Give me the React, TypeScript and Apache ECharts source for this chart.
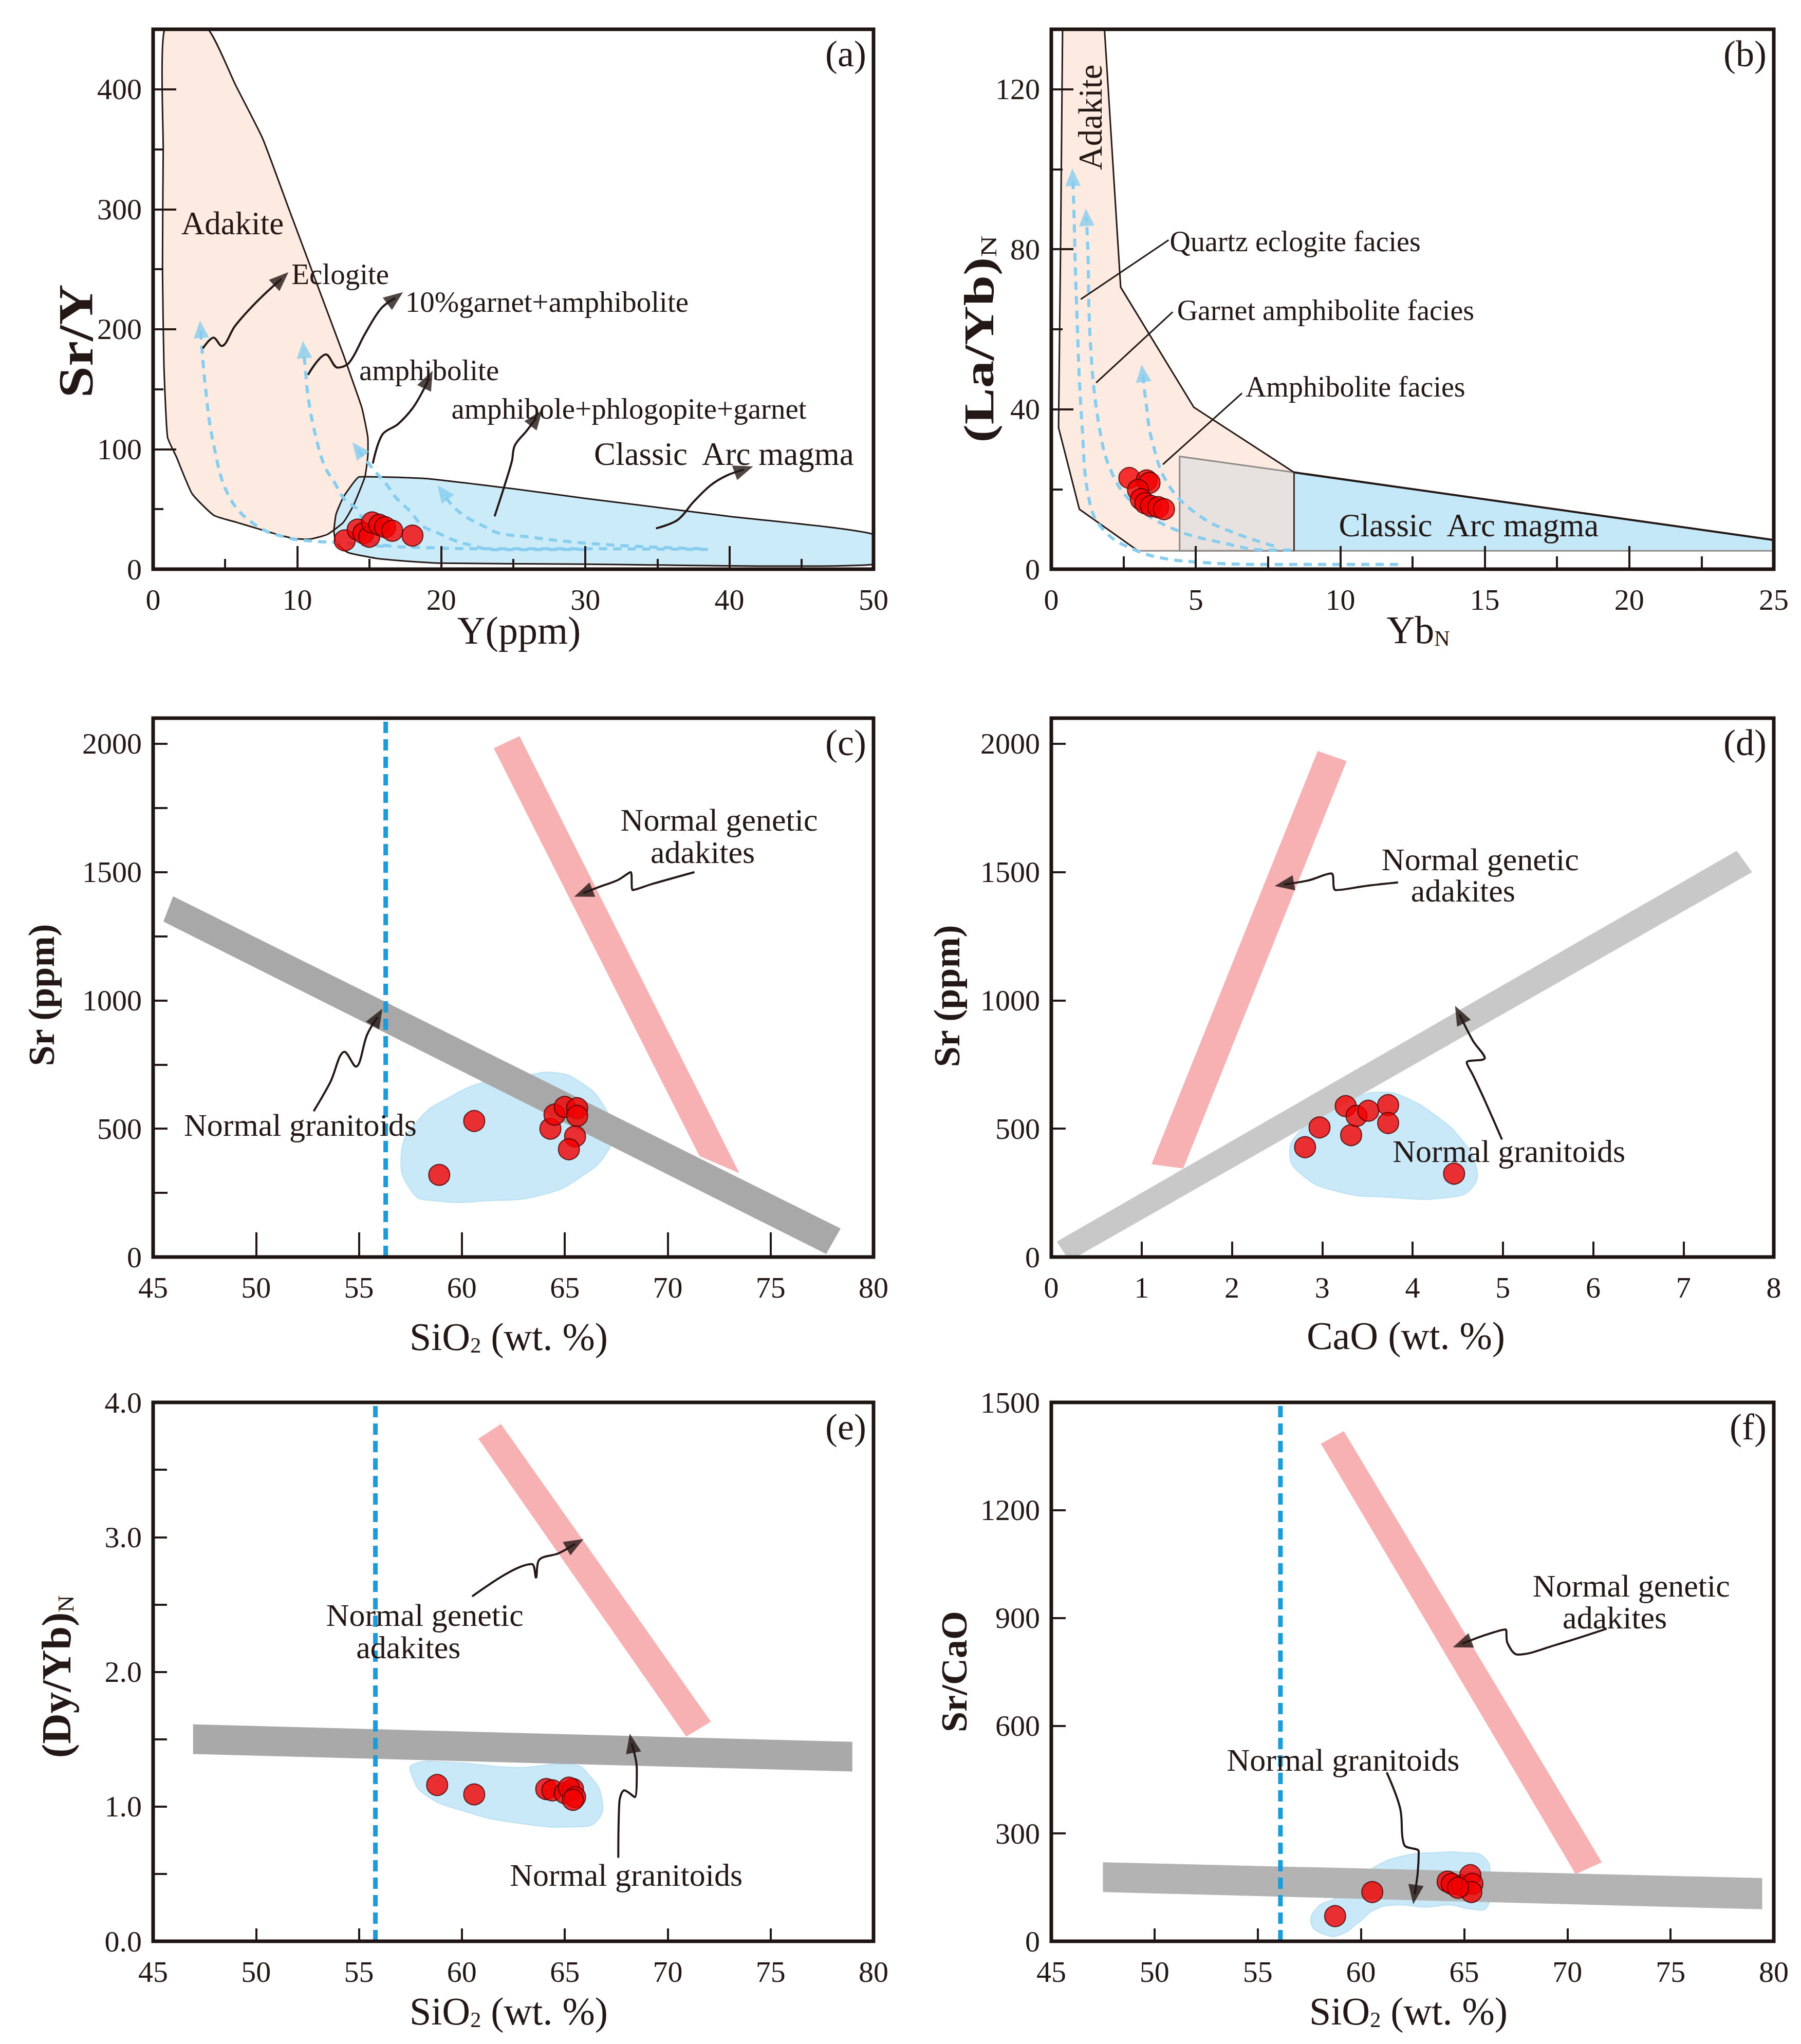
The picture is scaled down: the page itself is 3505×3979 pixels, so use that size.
import React, { useEffect, useRef } from 'react';
import * as echarts from 'echarts';

type Pt = [number, number];

const FONT = "'Liberation Serif', 'Times New Roman', Times, serif";
const INK = '#231815';

// ---------------- (a) Sr/Y vs Y(ppm) ----------------
const aXTicks = [0, 10, 20, 30, 40, 50];
const aXMinor = 5;
const aYTicks = [0, 100, 200, 300, 400];
const aYMinor = 50;
const aYMax = 450;
const aAdakite: Pt[] = [[0.8, 450], [0.7, 350], [0.65, 250], [0.75, 170], [1.0, 110], [1.6, 94], [2.7, 63], [4.2, 45], [5.8, 39], [7.2, 34], [8.6, 29], [9.8, 25.5], [10.9, 25], [12.1, 29], [13.2, 39], [13.9, 53], [14.7, 77], [14.9, 94], [14.9, 110], [14.5, 134], [13.9, 155], [13.2, 179], [11.3, 240], [9.4, 301], [7.6, 359], [5.7, 404], [3.8, 450]];
const aArc: Pt[] = [[14.3, 77], [19, 75.5], [25, 67], [30, 59], [40, 44], [50, 29], [50, 4], [30, 4.2], [20, 5], [17.9, 6.4], [15.5, 9], [13.5, 14], [12.7, 22], [12.55, 32], [12.7, 46], [13.2, 60], [13.9, 72]];
const aSamples: Pt[] = [[13.3, 24], [14.2, 33], [14.6, 30], [15.0, 27], [15.2, 39], [15.7, 37], [16.1, 35], [16.6, 32], [18.0, 28]];
const aTrendA: Pt[] = [[16, 19], [13, 22], [11, 23.5], [9.4, 26], [7.2, 36], [5.3, 60], [4.2, 104], [3.6, 155], [3.3, 200]];
const aTrendB: Pt[] = [[38.5, 16.5], [30, 17], [24, 17], [19, 18], [15.5, 21], [14.6, 32], [14.3, 48], [13.3, 58], [12.6, 72], [11.9, 86], [11.3, 110], [10.8, 140], [10.6, 162], [10.45, 183]];
const aTrendC: Pt[] = [[38, 17], [32, 20], [28, 24], [26, 27], [24, 30], [23, 35.5], [21.8, 43], [20.8, 52.6], [20.1, 64]];
const aTrendD: Pt[] = [[30, 16.5], [24.7, 16.3], [23.5, 16.3], [22.3, 19.3], [20.9, 24], [19.8, 30], [18.7, 36], [17.9, 47.5], [16.9, 59], [16.2, 70.6], [15.3, 83], [14.2, 100]];
const aArrowEclogite: Pt[] = [[3.45, 184], [4.2, 193], [4.75, 186], [5.7, 203], [7.2, 223], [8.9, 242]];
const aArrowGarnet: Pt[] = [[10.75, 162], [12.0, 179], [12.8, 168], [13.6, 172], [14.7, 196], [15.8, 217], [16.8, 226]];
const aArrowAmph: Pt[] = [[15.25, 88], [15.9, 112], [17.0, 121], [18.0, 134], [18.7, 148], [19.1, 158]];
const aArrowPhlog: Pt[] = [[23.7, 44], [24.4, 70], [24.9, 90], [25.1, 103], [25.9, 115], [26.6, 126]];
const aArrowArc: Pt[] = [[34.9, 34], [36.4, 41], [37.5, 56], [38.7, 70], [39.8, 78], [41.0, 83]];
const aNotes = [
  { x: 1.95, y: 288, text: 'Adakite', size: 63 },
  { x: 9.6, y: 246, text: 'Eclogite', size: 57 },
  { x: 17.5, y: 223, text: '10%garnet+amphibolite', size: 57 },
  { x: 14.3, y: 166, text: 'amphibolite', size: 57 },
  { x: 20.7, y: 134, text: 'amphibole+phlogopite+garnet', size: 57 },
  { x: 30.6, y: 96, text: 'Classic  Arc magma', size: 63 },
];

// ---------------- (b) (La/Yb)N vs YbN ----------------
const bXTicks = [0, 5, 10, 15, 20, 25];
const bXMinor = 2.5;
const bYTicks = [0, 40, 80, 120];
const bYMinor = 20;
const bYMax = 135;
const bAdakite: Pt[] = [[0.39, 135], [0.32, 80], [0.25, 35.4], [0.97, 15], [3.0, 4.5], [8.4, 4.5], [8.4, 24.2], [4.93, 40.5], [2.4, 70.5], [1.84, 135]];
const bAdakiteRightEdge: Pt[] = [[8.4, 24.2], [4.93, 40.5], [2.4, 70.5], [1.84, 135]];
const bAdakiteLeftEdge: Pt[] = [[0.39, 135], [0.32, 80], [0.25, 35.4], [0.97, 15], [3.0, 4.6]];
const bGreyBox: Pt[] = [[4.44, 28.2], [8.4, 24.2], [8.4, 4.6], [4.44, 4.6]];
const bArc: Pt[] = [[8.4, 24.2], [25, 7.3], [25, 4.6], [8.4, 4.6]];
const bArcTop: Pt[] = [[8.4, 24.2], [25, 7.3]];
const bBaseLine: Pt[] = [[3.0, 4.6], [25, 4.6]];
const bSamples: Pt[] = [[2.7, 22.8], [3.3, 22.2], [3.4, 21.6], [3.0, 19.8], [3.1, 17.5], [3.25, 16.5], [3.45, 15.8], [3.7, 15.5], [3.9, 15.0]];
const bTrend1: Pt[] = [[12, 1.2], [7.15, 1.2], [5.2, 1.7], [3.86, 2.75], [2.9, 4.8], [1.93, 8.9], [1.35, 16], [1.06, 36.4], [0.87, 67], [0.77, 92.5], [0.74, 98]];
const bTrend2: Pt[] = [[8.3, 4.8], [7.5, 4.8], [5.8, 6.8], [4.25, 10], [2.9, 16], [2.1, 24], [1.64, 36.4], [1.35, 57], [1.26, 81], [1.21, 88]];
const bTrend3: Pt[] = [[7.7, 5.8], [6.4, 8.9], [5.2, 13], [4.06, 21], [3.48, 32.3], [3.28, 41.5], [3.16, 49]];
const bLeaderQuartz: Pt[] = [[1.02, 67.5], [4.06, 82.3]];
const bLeaderGarnet: Pt[] = [[1.55, 46.6], [4.2, 64.3]];
const bLeaderAmph: Pt[] = [[3.86, 26.2], [6.6, 44]];
const bNotes = [
  { x: 1.35, y: 113, text: 'Adakite', size: 65, align: 'center', rot: 90 },
  { x: 4.1, y: 82, text: 'Quartz eclogite facies', size: 56 },
  { x: 4.35, y: 64.8, text: 'Garnet amphibolite facies', size: 56 },
  { x: 6.72, y: 45.6, text: 'Amphibolite facies', size: 56 },
  { x: 9.95, y: 10.9, text: 'Classic  Arc magma', size: 63 },
];

// ---------------- (c) Sr vs SiO2 ----------------
const cXTicks = [45, 50, 55, 60, 65, 70, 75, 80];
const cYTicks = [0, 500, 1000, 1500, 2000];
const cYMinor = 250;
const cYMax = 2100;
const cGreyBand: Pt[] = [[45.97, 1406], [78.4, 111], [77.7, 12], [45.5, 1307]];
const cPinkBand: Pt[] = [[61.55, 1983], [62.8, 2030], [73.48, 327], [71.54, 394]];
const cCluster: Pt[] = [[57.06, 402], [57.6, 252], [58.7, 219], [61.2, 219], [64, 244], [65.9, 319], [67, 402], [67.3, 485], [66.8, 601], [65.7, 684], [64.55, 718], [63.2, 709], [61.2, 684], [59.3, 618], [57.9, 535]];
const cSiO2Limit = 56.3;
const cSamples: Pt[] = [[58.9, 320], [60.6, 530], [64.3, 500], [64.5, 555], [65.0, 585], [65.6, 580], [65.6, 550], [65.5, 470], [65.2, 420]];
const cArrowAdakite: Pt[] = [[71.3, 1500], [69.3, 1455], [68.3, 1430], [68.2, 1500], [67.6, 1470], [66.6, 1440], [65.9, 1418]];
const cArrowGranite: Pt[] = [[52.8, 568], [53.6, 680], [54.3, 800], [54.85, 742], [55.4, 867], [55.9, 935]];
const cNotes = [
  { x: 72.5, y: 1703, text: 'Normal genetic', size: 62, align: 'center' },
  { x: 71.7, y: 1578, text: 'adakites', size: 62, align: 'center' },
  { x: 46.5, y: 515, text: 'Normal granitoids', size: 62 },
];

// ---------------- (d) Sr vs CaO ----------------
const dXTicks = [0, 1, 2, 3, 4, 5, 6, 7, 8];
const dYTicks = [0, 500, 1000, 1500, 2000];
const dYMax = 2100;
const dGreyBand: Pt[] = [[0.06, 60], [7.59, 1583], [7.76, 1500], [0.2, -15]];
const dPinkBand: Pt[] = [[2.95, 1972], [3.27, 1933], [1.46, 345], [1.11, 362]];
const dCluster: Pt[] = [[2.64, 408], [2.76, 325], [3.14, 258], [3.72, 233], [4.42, 233], [4.67, 275], [4.7, 358], [4.54, 458], [4.29, 542], [3.9, 625], [3.65, 642], [3.4, 625], [3.02, 558], [2.76, 492]];
const dSamples: Pt[] = [[2.81, 428], [2.97, 505], [3.26, 588], [3.32, 475], [3.38, 550], [3.51, 570], [3.73, 592], [3.73, 522], [4.46, 325]];
const dArrowAdakite: Pt[] = [[3.84, 1460], [3.5, 1447], [3.15, 1430], [3.1, 1495], [2.85, 1468], [2.58, 1452]];
const dArrowGranite: Pt[] = [[4.99, 458], [4.8, 610], [4.67, 708], [4.6, 758], [4.8, 775], [4.67, 842], [4.52, 945]];
const dNotes = [
  { x: 4.75, y: 1550, text: 'Normal genetic', size: 62, align: 'center' },
  { x: 4.56, y: 1428, text: 'adakites', size: 62, align: 'center' },
  { x: 3.78, y: 412, text: 'Normal granitoids', size: 62 },
];

// ---------------- (e) (Dy/Yb)N vs SiO2 ----------------
const eXTicks = [45, 50, 55, 60, 65, 70, 75, 80];
const eYTicks = [0, 1, 2, 3, 4];
const eYMinor = 0.5;
const eYMax = 4;
const eGreyBand: Pt[] = [[46.94, 1.61], [78.97, 1.48], [78.97, 1.26], [46.94, 1.39]];
const ePinkBand: Pt[] = [[60.8, 3.73], [61.9, 3.84], [72.1, 1.63], [70.9, 1.52]];
const eCluster: Pt[] = [[57.6, 1.31], [59.3, 1.33], [62.6, 1.29], [65.4, 1.31], [66.2, 1.23], [66.8, 1.06], [66.6, 0.9], [65.7, 0.85], [62.6, 0.88], [59.8, 0.98], [58.2, 1.09], [57.6, 1.22]];
const eSiO2Limit = 55.8;
const eSamples: Pt[] = [[58.8, 1.16], [60.6, 1.09], [64.1, 1.13], [64.4, 1.12], [65.0, 1.1], [65.4, 1.13], [65.2, 1.14], [65.5, 1.07], [65.4, 1.05]];
const eArrowAdakite: Pt[] = [[60.5, 2.56], [62.3, 2.74], [63.4, 2.8], [63.6, 2.7], [63.75, 2.83], [64.7, 2.88], [65.5, 2.95]];
const eArrowGranite: Pt[] = [[67.6, 0.62], [67.65, 1.03], [67.9, 1.12], [68.4, 1.07], [68.5, 1.28], [68.25, 1.47]];
const eNotes = [
  { x: 58.2, y: 2.42, text: 'Normal genetic', size: 62, align: 'center' },
  { x: 57.4, y: 2.18, text: 'adakites', size: 62, align: 'center' },
  { x: 62.33, y: 0.49, text: 'Normal granitoids', size: 62 },
];

// ---------------- (f) Sr/CaO vs SiO2 ----------------
const fXTicks = [45, 50, 55, 60, 65, 70, 75, 80];
const fYTicks = [0, 300, 600, 900, 1200, 1500];
const fYMax = 1500;
const fGreyBand: Pt[] = [[47.5, 220], [79.44, 176], [79.44, 89], [47.5, 137]];
const fPinkBand: Pt[] = [[58.06, 1385], [59.17, 1420], [71.67, 220], [70.4, 187]];
const fCluster: Pt[] = [[57.6, 48], [58.3, 18], [59, 18], [59.9, 53], [60.7, 89], [61.8, 101], [63.2, 95], [64.3, 101], [65.4, 89], [66.1, 95], [66.25, 166], [66, 232], [64.86, 247], [63.75, 247], [62.1, 238], [60.7, 208], [59.9, 166], [58.75, 119], [57.9, 95]];
const fSiO2Limit = 56.1;
const fSamples: Pt[] = [[58.75, 70], [60.55, 137], [64.2, 166], [64.4, 160], [64.9, 155], [65.3, 184], [65.4, 160], [65.35, 137], [64.7, 149]];
const fArrowAdakite: Pt[] = [[71.9, 870], [69.5, 826], [67.6, 798], [67.1, 830], [67.0, 868], [66.0, 852], [64.9, 828]];
const fArrowGranite: Pt[] = [[61.25, 470], [61.9, 370], [62.1, 268], [62.8, 250], [62.75, 190], [62.6, 130]];
const fNotes = [
  { x: 73.1, y: 990, text: 'Normal genetic', size: 62, align: 'center' },
  { x: 72.3, y: 901, text: 'adakites', size: 62, align: 'center' },
  { x: 53.5, y: 505, text: 'Normal granitoids', size: 62 },
];

// ---------------- layout & styles ----------------
const PANELS = [
  { letter: '(a)', left: 298, top: 57, width: 1402, height: 1051, xt: aXTicks, xMax: 50, xMinor: aXMinor, yt: aYTicks, yMax: aYMax, yMinor: aYMinor, xLen: [45, 20], yLen: [45, 20], yDigits: 0 },
  { letter: '(b)', left: 2046, top: 57, width: 1406, height: 1051, xt: bXTicks, xMax: 25, xMinor: bXMinor, yt: bYTicks, yMax: bYMax, yMinor: bYMinor, xLen: [45, 25], yLen: [43, 22], yDigits: 0 },
  { letter: '(c)', left: 298, top: 1398, width: 1402, height: 1049, xt: cXTicks, xMax: 80, xMinor: 0, yt: cYTicks, yMax: cYMax, yMinor: cYMinor, xLen: [48, 0], yLen: [28, 28], yDigits: 0 },
  { letter: '(d)', left: 2046, top: 1398, width: 1406, height: 1049, xt: dXTicks, xMax: 8, xMinor: 0, yt: dYTicks, yMax: dYMax, yMinor: 0, xLen: [30, 0], yLen: [28, 0], yDigits: 0 },
  { letter: '(e)', left: 298, top: 2730, width: 1402, height: 1049, xt: eXTicks, xMax: 80, xMinor: 0, yt: eYTicks, yMax: eYMax, yMinor: eYMinor, xLen: [25, 0], yLen: [27, 27], yDigits: 1 },
  { letter: '(f)', left: 2046, top: 2730, width: 1406, height: 1049, xt: fXTicks, xMax: 80, xMinor: 0, yt: fYTicks, yMax: fYMax, yMinor: 0, xLen: [25, 0], yLen: [28, 0], yDigits: 0 },
];

const TITLES = [
  { x: 1010, y: 1227, rot: 0, size: 76, stretch: 1, bold: false, parts: [['Y(ppm)', 'm']] },
  { x: 148, y: 664, rot: 90, size: 96, stretch: 1.15, bold: true, parts: [['Sr/Y', 'm']] },
  { x: 2760, y: 1226, rot: 0, size: 76, stretch: 1, bold: false, parts: [['Yb', 'm'], ['N', 's']] },
  { x: 1905, y: 660, rot: 90, size: 82, stretch: 1.3, bold: true, parts: [['(La/Yb)', 'm'], ['N', 's']] },
  { x: 990, y: 2602, rot: 0, size: 76, stretch: 1, bold: false, parts: [['SiO', 'm'], ['2', 's'], [' (wt. %)', 'm']] },
  { x: 81, y: 1937, rot: 90, size: 72, stretch: 1, bold: true, parts: [['Sr (ppm)', 'm']] },
  { x: 2736, y: 2600, rot: 0, size: 76, stretch: 1, bold: false, parts: [['CaO (wt. %)', 'm']] },
  { x: 1843, y: 1939, rot: 90, size: 72, stretch: 1, bold: true, parts: [['Sr (ppm)', 'm']] },
  { x: 990, y: 3915, rot: 0, size: 76, stretch: 1, bold: false, parts: [['SiO', 'm'], ['2', 's'], [' (wt. %)', 'm']] },
  { x: 110, y: 3264, rot: 90, size: 80, stretch: 1.03, bold: true, parts: [['(Dy/Yb)', 'm'], ['N', 's']] },
  { x: 2741, y: 3915, rot: 0, size: 76, stretch: 1, bold: false, parts: [['SiO', 'm'], ['2', 's'], [' (wt. %)', 'm']] },
  { x: 1857, y: 3254, rot: 90, size: 72, stretch: 1, bold: true, parts: [['Sr/CaO', 'm']] },
];

const C = {
  pinkRegion: '#fdebe2',
  arcRegion: '#c4e8f8',
  cluster: '#c9e9f8',
  clusterEdge: '#b9e0f3',
  pinkBand: '#f8b1b3',
  greyBox: '#e7e2df',
  trend: '#86cdef',
  limit: '#1b9bd9',
  dot: '#f20000',
  dotEdge: '#3c0000',
};

function headRot(i: number, pts: Pt[]) {
  const p = PANELS[i];
  const a = pts[pts.length - 2];
  const b = pts[pts.length - 1];
  const sx = p.width / (p.xMax - p.xt[0]);
  const sy = p.height / (p.yMax - p.yt[0]);
  const ang = (Math.atan2((b[1] - a[1]) * sy, (b[0] - a[0]) * sx) * 180) / Math.PI;
  return ang - 90;
}

function poly(i: number, pts: Pt[], style: any, z: number, smooth = 0) {
  return {
    type: 'custom',
    xAxisIndex: 2 * i,
    yAxisIndex: 2 * i,
    clip: true,
    silent: true,
    z,
    data: [pts[0]],
    renderItem: (_params: any, api: any) => ({
      type: 'polygon',
      shape: { points: pts.map((q) => api.coord(q)), smooth },
      style: { ...style },
    }),
  };
}

function line(i: number, pts: Pt[], color: string, width: number, type: any = 'solid', z = 5, smooth: any = false) {
  return {
    type: 'line',
    xAxisIndex: 2 * i,
    yAxisIndex: 2 * i,
    data: pts,
    symbol: 'none',
    smooth,
    silent: true,
    z,
    lineStyle: { color, width, type, cap: 'butt' },
  };
}

function heads(i: number, curves: Pt[][], color: string, size: number[], z = 6) {
  return {
    type: 'scatter',
    xAxisIndex: 2 * i,
    yAxisIndex: 2 * i,
    symbol: 'triangle',
    symbolSize: size,
    silent: true,
    z,
    itemStyle: { color },
    data: curves.map((c) => ({ value: c[c.length - 1], symbolRotate: headRot(i, c) })),
  };
}

function arrows(i: number, curves: Pt[][]) {
  const out: any[] = curves.map((c) => line(i, c, INK, 4, 'solid', 12, 0.35));
  out.push(heads(i, curves, INK, [30, 38], 13));
  return out;
}

function trends(i: number, curves: Pt[][]) {
  const out: any[] = curves.map((c) => line(i, c, C.trend, 6, [16, 12], 6, 0.4));
  out.push(heads(i, curves, C.trend, [30, 34], 7));
  return out;
}

function dots(i: number, pts: Pt[]) {
  return {
    type: 'scatter',
    xAxisIndex: 2 * i,
    yAxisIndex: 2 * i,
    symbol: 'circle',
    symbolSize: 41,
    silent: true,
    z: 20,
    itemStyle: { color: C.dot, borderColor: C.dotEdge, borderWidth: 2 },
    data: pts,
  };
}

function notes(i: number, list: any[]) {
  return {
    type: 'custom',
    xAxisIndex: 2 * i,
    yAxisIndex: 2 * i,
    clip: false,
    silent: true,
    z: 30,
    data: list.map((l) => [l.x, l.y]),
    renderItem: (params: any, api: any) => {
      const l = list[params.dataIndex];
      const c = api.coord([l.x, l.y]);
      return {
        type: 'text',
        x: c[0],
        y: c[1],
        rotation: ((l.rot || 0) * Math.PI) / 180,
        style: {
          text: l.text,
          fontFamily: FONT,
          fontSize: l.size,
          fill: INK,
          align: l.align || 'left',
          verticalAlign: 'middle',
        },
      };
    },
  };
}

function limitLine(i: number, x: number) {
  const p = PANELS[i];
  return line(i, [[x, p.yt[0]], [x, p.yMax]], C.limit, 9, [22, 12], 8);
}

function buildOption() {
  const xAxis: any[] = [];
  const yAxis: any[] = [];
  const grid: any[] = [];
  PANELS.forEach((p, i) => {
    grid.push({ left: p.left, top: p.top, width: p.width, height: p.height, show: false });
    const tickStyle = { color: INK, width: 4 };
    const xStep = p.xt[1] - p.xt[0];
    const yStep = p.yt[1] - p.yt[0];
    const isTick = (arr: number[], v: number) => arr.some((t) => Math.abs(t - v) < 1e-9);
    xAxis.push({
      type: 'value', gridIndex: i, position: 'bottom', min: p.xt[0], max: p.xMax, interval: xStep, z: 20,
      axisLine: { show: false }, splitLine: { show: false },
      axisTick: { show: true, inside: true, length: p.xLen[0], lineStyle: tickStyle },
      axisLabel: { show: true, margin: 30, fontFamily: FONT, fontSize: 58, color: INK, formatter: (v: number) => (isTick(p.xt, v) ? String(v) : '') },
    });
    xAxis.push({
      type: 'value', gridIndex: i, position: 'bottom', min: p.xt[0], max: p.xMax, interval: p.xMinor || xStep, z: 19,
      axisLine: { show: false }, splitLine: { show: false }, axisLabel: { show: false },
      axisTick: { show: !!p.xMinor, inside: true, length: p.xLen[1], lineStyle: tickStyle },
    });
    yAxis.push({
      type: 'value', gridIndex: i, position: 'left', min: p.yt[0], max: p.yMax, interval: yStep, z: 20,
      axisLine: { show: false }, splitLine: { show: false },
      axisTick: { show: true, inside: true, length: p.yLen[0], lineStyle: tickStyle },
      axisLabel: { show: true, margin: 22, fontFamily: FONT, fontSize: 58, color: INK, formatter: (v: number) => (isTick(p.yt, v) ? v.toFixed(p.yDigits) : '') },
    });
    yAxis.push({
      type: 'value', gridIndex: i, position: 'left', min: p.yt[0], max: p.yMax, interval: p.yMinor || yStep, z: 19,
      axisLine: { show: false }, splitLine: { show: false }, axisLabel: { show: false },
      axisTick: { show: !!p.yMinor, inside: true, length: p.yLen[1], lineStyle: tickStyle },
    });
  });

  const series: any[] = [];
  // (a)
  series.push(poly(0, aAdakite, { fill: C.pinkRegion }, 1, 0.15));
  series.push(poly(0, aArc, { fill: C.arcRegion, opacity: 0.88 }, 2, 0.15));
  series.push(poly(0, aAdakite, { fill: 'none', stroke: INK, lineWidth: 3 }, 3, 0.15));
  series.push(poly(0, aArc, { fill: 'none', stroke: INK, lineWidth: 3 }, 3, 0.15));
  series.push(...trends(0, [aTrendA, aTrendB, aTrendC, aTrendD]));
  series.push(...arrows(0, [aArrowEclogite, aArrowGarnet, aArrowAmph, aArrowPhlog, aArrowArc]));
  series.push(dots(0, aSamples));
  series.push(notes(0, aNotes));
  // (b)
  series.push(poly(1, bAdakite, { fill: C.pinkRegion }, 1));
  series.push(poly(1, bArc, { fill: C.arcRegion }, 2));
  series.push(poly(1, bGreyBox, { fill: C.greyBox, stroke: '#8f8a88', lineWidth: 3 }, 2));
  series.push(line(1, bAdakiteRightEdge, INK, 3, 'solid', 4));
  series.push(line(1, bAdakiteLeftEdge, INK, 3, 'solid', 4));
  series.push(line(1, bArcTop, INK, 4, 'solid', 4));
  series.push(line(1, bBaseLine, '#8f8a88', 3, 'solid', 4));
  series.push(line(1, [[8.4, 24.2], [8.4, 4.6]], '#3a3230', 3, 'solid', 4));
  series.push(...trends(1, [bTrend1, bTrend2, bTrend3]));
  series.push(line(1, bLeaderQuartz, INK, 3, 'solid', 12));
  series.push(line(1, bLeaderGarnet, INK, 3, 'solid', 12));
  series.push(line(1, bLeaderAmph, INK, 3, 'solid', 12));
  series.push(dots(1, bSamples));
  series.push(notes(1, bNotes));
  // (c)
  series.push(poly(2, cCluster, { fill: C.cluster, stroke: C.clusterEdge, lineWidth: 2 }, 1, 0.5));
  series.push(poly(2, cGreyBand, { fill: '#a8a8a8' }, 2));
  series.push(poly(2, cPinkBand, { fill: C.pinkBand }, 3));
  series.push(limitLine(2, cSiO2Limit));
  series.push(...arrows(2, [cArrowAdakite, cArrowGranite]));
  series.push(dots(2, cSamples));
  series.push(notes(2, cNotes));
  // (d)
  series.push(poly(3, dCluster, { fill: C.cluster, stroke: C.clusterEdge, lineWidth: 2 }, 1, 0.5));
  series.push(poly(3, dGreyBand, { fill: '#c8c8c8' }, 2));
  series.push(poly(3, dPinkBand, { fill: C.pinkBand }, 3));
  series.push(...arrows(3, [dArrowAdakite, dArrowGranite]));
  series.push(dots(3, dSamples));
  series.push(notes(3, dNotes));
  // (e)
  series.push(poly(4, eCluster, { fill: C.cluster, stroke: C.clusterEdge, lineWidth: 2 }, 1, 0.5));
  series.push(poly(4, eGreyBand, { fill: '#a9a9a9' }, 2));
  series.push(poly(4, ePinkBand, { fill: C.pinkBand }, 3));
  series.push(limitLine(4, eSiO2Limit));
  series.push(...arrows(4, [eArrowAdakite, eArrowGranite]));
  series.push(dots(4, eSamples));
  series.push(notes(4, eNotes));
  // (f)
  series.push(poly(5, fCluster, { fill: C.cluster, stroke: C.clusterEdge, lineWidth: 2 }, 1, 0.5));
  series.push(poly(5, fGreyBand, { fill: '#b3b3b3' }, 2));
  series.push(poly(5, fPinkBand, { fill: C.pinkBand }, 3));
  series.push(limitLine(5, fSiO2Limit));
  series.push(...arrows(5, [fArrowAdakite, fArrowGranite]));
  series.push(dots(5, fSamples));
  series.push(notes(5, fNotes));

  const graphic: any[] = [];
  PANELS.forEach((p) => {
    graphic.push({
      type: 'rect', z: 100, silent: true,
      shape: { x: p.left, y: p.top, width: p.width, height: p.height },
      style: { fill: 'none', stroke: '#1e1412', lineWidth: 7 },
    });
    graphic.push({
      type: 'text', z: 100, silent: true, x: p.left + p.width - 14, y: p.top + 48,
      style: { text: p.letter, fontFamily: FONT, fontSize: 72, fill: INK, align: 'right', verticalAlign: 'middle' },
    });
  });
  TITLES.forEach((t) => {
    const weight = t.bold ? 'bold' : 'normal';
    graphic.push({
      type: 'text', z: 100, silent: true, x: t.x, y: t.y,
      rotation: (t.rot * Math.PI) / 180,
      scaleX: t.stretch,
      style: {
        text: t.parts.map(([s, k]) => `{${k}|${s}}`).join(''),
        align: 'center',
        verticalAlign: 'middle',
        rich: {
          m: { fontFamily: FONT, fontSize: t.size, fontWeight: weight, fill: INK },
          s: { fontFamily: FONT, fontSize: Math.round(t.size * 0.55), fontWeight: 'normal', fill: INK, verticalAlign: 'bottom', lineHeight: 30 },
        },
      },
    });
  });

  return { animation: false, backgroundColor: '#ffffff', grid, xAxis, yAxis, series, graphic };
}

export default function App() {
  const ref = useRef<HTMLDivElement>(null);
  useEffect(() => {
    if (!ref.current) return;
    const chart = echarts.init(ref.current, undefined, { renderer: 'svg' });
    chart.setOption(buildOption() as any);
    return () => chart.dispose();
  }, []);
  return <div ref={ref} style={{ position: 'absolute', left: 0, top: 0, width: 3505, height: 3979, background: '#fff' }} />;
}
